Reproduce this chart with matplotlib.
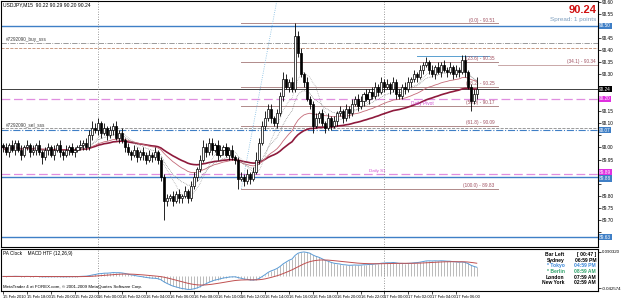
import matplotlib.pyplot as plt
import numpy as np
import pandas as pd

plt.rcParams['font.family'] = ['Liberation Sans', 'DejaVu Sans']

# USDJPY M15, 15 Feb 2010 16:00 -> 17 Feb 2010 ~07:45 (160 bars)
first_open = 90.01
closes = [90.00, 89.98, 90.01, 89.99, 90.02, 89.99, 89.97, 90.00, 90.01, 89.98,
          89.99, 90.01, 89.98, 89.96, 89.99, 90.00, 89.97, 89.99, 90.01, 89.98,
          89.97, 89.99, 90.00, 89.98, 89.99, 90.00, 90.01, 90.02, 90.00, 90.05,
          90.08, 90.07, 90.10, 90.06, 90.08, 90.05, 90.07, 90.09, 90.04, 90.06,
          90.03, 90.00, 89.98, 89.97, 89.99, 89.96, 89.98, 89.97, 89.95, 89.97,
          89.96, 89.98, 89.95, 89.88, 89.78, 89.79, 89.80, 89.78, 89.81, 89.79,
          89.80, 89.82, 89.79, 89.84, 89.88, 89.91, 89.95, 90.00, 89.98, 90.02,
          89.99, 90.01, 89.97, 89.99, 90.00, 89.97, 89.99, 89.96, 89.95, 89.87,
          89.88, 89.86, 89.89, 89.87, 89.90, 89.95, 90.02, 90.09, 90.12, 90.16,
          90.12, 90.10, 90.14, 90.21, 90.28, 90.25, 90.27, 90.24, 90.46, 90.39,
          90.30, 90.27, 90.20, 90.18, 90.09, 90.12, 90.14, 90.10, 90.08, 90.12,
          90.09, 90.11, 90.14, 90.15, 90.12, 90.16, 90.14, 90.18, 90.20, 90.17,
          90.19, 90.22, 90.20, 90.23, 90.21, 90.25, 90.23, 90.27, 90.25, 90.26,
          90.24, 90.27, 90.22, 90.21, 90.25, 90.24, 90.27, 90.28, 90.30, 90.29,
          90.32, 90.34, 90.35, 90.32, 90.30, 90.33, 90.31, 90.34, 90.32, 90.31,
          90.33, 90.30, 90.32, 90.31, 90.36, 90.31, 90.25, 90.19, 90.22, 90.24]
# wick lengths in pips above / below the candle body
upper_wick = [1, 2, 1, 2, 1, 1, 2, 1, 2, 1, 2, 1, 2, 1, 1, 2, 1, 2, 1, 2,
              1, 2, 1, 2, 1, 1, 2, 1, 2, 2, 3, 2, 2, 1, 2, 1, 2, 1, 2, 1,
              2, 1, 2, 1, 2, 1, 1, 2, 1, 2, 1, 2, 1, 1, 1, 2, 1, 2, 1, 2,
              1, 2, 1, 2, 2, 1, 2, 3, 2, 2, 2, 1, 2, 2, 1, 2, 1, 2, 1, 1,
              2, 1, 2, 1, 2, 3, 2, 2, 3, 2, 2, 1, 2, 2, 3, 2, 1, 2, 5, 2,
              2, 1, 2, 1, 1, 2, 1, 2, 1, 2, 1, 2, 1, 2, 1, 2, 1, 2, 1, 2,
              2, 1, 2, 1, 2, 2, 1, 2, 1, 2, 1, 2, 1, 2, 1, 2, 2, 1, 2, 1,
              2, 1, 2, 1, 2, 1, 2, 1, 2, 1, 2, 1, 2, 1, 2, 2, 1, 1, 2, 5]
lower_wick = [2, 1, 2, 1, 2, 1, 2, 1, 1, 2, 1, 2, 1, 3, 1, 2, 1, 2, 1, 2,
              2, 1, 2, 1, 2, 1, 1, 2, 1, 1, 2, 1, 2, 2, 1, 2, 1, 2, 1, 2,
              1, 2, 1, 2, 1, 2, 1, 2, 2, 1, 2, 1, 2, 2, 8, 2, 1, 2, 1, 2,
              2, 1, 2, 1, 1, 2, 1, 1, 2, 1, 2, 1, 2, 1, 2, 1, 2, 1, 2, 4,
              1, 2, 1, 2, 1, 1, 2, 1, 2, 1, 2, 1, 2, 1, 2, 1, 2, 1, 1, 2,
              1, 2, 1, 2, 3, 1, 2, 1, 2, 1, 2, 1, 2, 1, 2, 1, 2, 1, 1, 2,
              1, 2, 1, 2, 1, 1, 2, 1, 2, 1, 2, 1, 2, 1, 1, 2, 1, 2, 1, 2,
              1, 2, 1, 2, 1, 2, 1, 2, 1, 2, 1, 2, 1, 2, 1, 2, 1, 4, 1, 2]

time_labels = ["15 Feb 2010", "15 Feb 18:00", "15 Feb 20:00", "15 Feb 22:00",
               "16 Feb 00:00", "16 Feb 02:00", "16 Feb 04:00", "16 Feb 06:00",
               "16 Feb 08:00", "16 Feb 10:00", "16 Feb 12:00", "16 Feb 14:00",
               "16 Feb 16:00", "16 Feb 18:00", "16 Feb 20:00", "16 Feb 22:00",
               "17 Feb 00:00", "17 Feb 02:00", "17 Feb 04:00", "17 Feb 06:00"]
day_breaks = [32, 128]

# fibonacci retracement (drawn from the 16 Feb low to the spike high)
fib_names = ["0.0", "23.6", "38.2", "50.0", "61.8", "100.0"]
fib_prices = [90.51, 90.35, 90.25, 90.17, 90.09, 89.83]

# full-width horizontal lines: price, colour, style, width
h_prices = [90.50, 90.43, 90.41, 90.24, 90.20, 90.08, 90.07, 89.89, 89.88, 89.63]
h_colors = ["#3f7fc6", "#8a8a8a", "#c08a70", "#404040", "#e08ee0", "#8a8a8a",
            "#3f7fc6", "#e08ee0", "#3f7fc6", "#3f7fc6"]
h_styles = ["-", "-.", "--", "-", (0, (7, 3)), "--", "-.", (0, (7, 3)), "-", "-"]
h_widths = [1.0, 0.6, 0.6, 0.7, 0.9, 0.6, 0.8, 0.9, 1.0, 1.0]

# price boxes on the right scale: value, colour, drawn position
axis_boxes = [(90.50, "#3f7fc6", 90.50), (90.24, "#000000", 90.24),
              (90.20, "#e030e0", 90.20), (90.07, "#3f7fc6", 90.07),
              (89.89, "#e030e0", 89.898), (89.88, "#3f7fc6", 89.872),
              (89.63, "#3f7fc6", 89.63)]

clock_names = ["Bar Left", "Sydney", "* Tokyo", "* Berlin", "London", "New York"]
clock_times = ["[ 00:47 ]", "06:59 PM", "04:59 PM", "08:59 AM", "07:59 AM", "02:59 AM"]
clock_colors = ["#000000", "#000000", "#3a86d8", "#2ea36a", "#000000", "#000000"]

W, H = 625, 300
fig = plt.figure(figsize=(6.25, 3), dpi=100)
fig.patch.set_facecolor("white")
ax = fig.add_axes([1 / W, 1 - 247 / H, 597 / W, 246 / H])
mx = fig.add_axes([1 / W, 1 - 291 / H, 597 / W, 42 / H], sharex=ax)

n = len(closes)
idx = np.arange(n)
c = np.array(closes)
o = np.concatenate([[first_open], c[:-1]])
top = np.maximum(o, c)
bot = np.minimum(o, c)
hi = top + np.array(upper_wick) / 100
lo = bot - np.array(lower_wick) / 100

s = pd.Series(c)
ema_slow = s.ewm(span=55).mean()
ema_mid = s.ewm(span=30).mean()
ema_fast = s.ewm(span=14).mean()
sma_fast = s.rolling(8, min_periods=1).mean()

xmin, xmax = -0.67, 199.7
ymin, ymax = 89.59, 90.6025

# horizontal levels
for p, col, ls, lw in zip(h_prices, h_colors, h_styles, h_widths):
    ax.axhline(p, color=col, ls=ls, lw=lw, zorder=1)

# fibo lines
for name, p in zip(fib_names, fib_prices):
    ax.plot([80, 166], [p, p], color="#b08a8a", lw=0.7, zorder=1)
    ax.text(165, p + 0.004, "(%s) - %.2f" % (name, p), fontsize=3.4,
            color="#a05060", ha="right", va="bottom")
ax.plot([166, xmax], [90.34, 90.34], color="#c09a9a", lw=0.6, zorder=1)
ax.text(199, 90.344, "(34.1) - 90.34", fontsize=3.4, color="#a05060",
        ha="right", va="bottom")
ax.plot([139, 163], [90.375, 90.375], color="#5aa0d0", lw=0.7, zorder=1)
ax.plot([80, 92], [89.83, 90.61], color="#7ab8e0", lw=0.6, ls=":", zorder=1)

ax.text(1, 90.432, "#7292090_buy_sss", fontsize=3.4, color="#404040", va="bottom")
ax.text(1, 90.082, "#7292090_sel_sss", fontsize=3.4, color="#404040", va="bottom")
ax.text(137, 90.19, "Daily Pivot", fontsize=3.4, color="#d050d0", va="top")
ax.text(123, 89.895, "Daily S1", fontsize=3.2, color="#d050d0", va="bottom")

# moving averages
ax.plot(idx, ema_slow, color="#8e1a3c", lw=1.2, zorder=2)
ax.plot(idx, ema_mid, color="#c46a78", lw=0.6, zorder=2)
ax.plot(idx, ema_fast, color="#707070", lw=0.5, ls=(0, (1, 1.5)), zorder=2)
ax.plot(idx, sma_fast, color="#9a9a9a", lw=0.5, ls=(0, (1, 1.5)), zorder=2)

# candles
ax.vlines(idx, lo, hi, color="black", lw=0.6, zorder=3)
bull = c >= o
heights = np.maximum(top - bot, 0.002)
ax.bar(idx[bull], heights[bull], bottom=bot[bull], width=0.7,
       facecolor="white", edgecolor="black", lw=0.5, zorder=4)
ax.bar(idx[~bull], heights[~bull], bottom=bot[~bull], width=0.7,
       facecolor="black", edgecolor="black", lw=0.5, zorder=4)

for b in day_breaks:
    ax.axvline(b, color="#777777", lw=0.6, ls=(0, (1, 2)), zorder=1)
    mx.axvline(b, color="#777777", lw=0.6, ls=(0, (1, 2)), zorder=1)

ax.set_xlim(xmin, xmax)
ax.set_ylim(ymin, ymax)
ax.yaxis.tick_right()
ticks = np.round(np.arange(89.65, 90.601, 0.05), 2)
ax.set_yticks(ticks)
box_pos = [bp for _, _, bp in axis_boxes]
ax.set_yticklabels(["" if min(abs(t - bp) for bp in box_pos) < 0.03 else "%.2f" % t
                    for t in ticks])
ax.tick_params(axis="y", labelsize=3.4, length=2, width=0.5, pad=1)
ax.tick_params(axis="x", bottom=False, labelbottom=False)
for val, col, bp in axis_boxes:
    ax.text(1.002, (bp - ymin) / (ymax - ymin), "%.2f" % val, transform=ax.transAxes,
            fontsize=3.4, color="white", va="center", ha="left",
            bbox=dict(boxstyle="square,pad=0.12", fc=col, ec="none"))
for sp in ax.spines.values():
    sp.set_linewidth(0.8)

ax.text(0.004, 0.995, "USDJPY,M15  90.22 90.29 90.20 90.24", transform=ax.transAxes,
        fontsize=3.6, va="top", ha="left")
ax.text(0.998, 0.985, "90.24", transform=ax.transAxes, fontsize=8,
        color="#d01010", weight="bold", va="top", ha="right")
ax.text(0.998, 0.935, "Spread: 1 points", transform=ax.transAxes, fontsize=4.6,
        color="#7f9fbf", va="top", ha="right")

# MACD (higher timeframe, M30 periods on M15 bars)
macd_line = s.ewm(span=24).mean() - s.ewm(span=52).mean()
signal = macd_line.ewm(span=18).mean()
mx.vlines(idx, 0, macd_line, color="#a0a0a0", lw=0.5)
mx.plot(idx, macd_line, color="#5b9bd5", lw=0.7)
mx.plot(idx, signal, color="#c05050", lw=0.7)
mtop = macd_line.max() * 1.12
mbot = min(macd_line.min() * 1.12, -mtop * 0.3)
mx.set_ylim(mbot, mtop)
mx.yaxis.tick_right()
mx.set_yticks([mtop * 0.9, mbot * 0.8])
mx.set_yticklabels(["%.6f" % (mtop * 0.9), "%.6f" % (mbot * 0.8)])
mx.tick_params(axis="y", labelsize=3.2, length=2, width=0.5, pad=1)
mx.set_xticks(np.arange(0, len(time_labels) * 8, 8))
mx.set_xticklabels(time_labels, ha="left")
mx.tick_params(axis="x", labelsize=3.0, length=2, width=0.5, pad=1)
for sp in mx.spines.values():
    sp.set_linewidth(0.8)

mx.text(0.004, 0.96, "PA Clock    MACD HTF (12,26,9)", transform=mx.transAxes,
        fontsize=3.4, va="top")
mx.text(0.004, 0.04, "MetaTrader 4 at FOREX.com, \u00a9 2001-2009 MetaQuotes Software Corp.",
        transform=mx.transAxes, fontsize=3.2, va="bottom")
for k, (nm, tm, col) in enumerate(zip(clock_names, clock_times, clock_colors)):
    yy = 0.93 - k * 0.135
    mx.text(0.944, yy, nm, transform=mx.transAxes, fontsize=3.6, color=col,
            ha="right", va="top", weight="bold")
    mx.text(0.997, yy, tm, transform=mx.transAxes, fontsize=3.6, color=col,
            ha="right", va="top", weight="bold")

fig.savefig("out.png", dpi=100)
